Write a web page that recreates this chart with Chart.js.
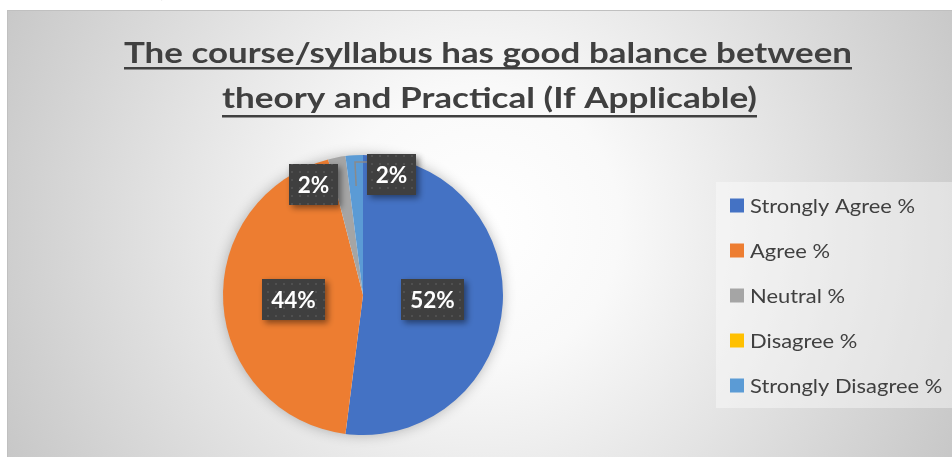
<!DOCTYPE html>
<html><head><meta charset="utf-8">
<script src="https://cdn.jsdelivr.net/npm/chart.js@4/dist/chart.umd.min.js"></script>
<style>html,body{margin:0;padding:0;background:#fff;overflow:hidden}#wrap{position:absolute;left:0;top:0;width:952px;height:457px}</style>
</head><body><div id="wrap"><canvas id="c" width="952" height="457"></canvas></div>
<script>
const titleLines = ["The course/syllabus has good balance between", "theory and Practical (If Applicable)"];
const categories = ["Strongly Agree %", "Agree %", "Neutral %", "Disagree %", "Strongly Disagree %"];
const values = [52, 44, 2, 0, 2];
const colors = ["#4472C4", "#ED7D31", "#A5A5A5", "#FFC000", "#5B9BD5"];
const cutText = "Applicable)";

const TEXT = '#404040';
const FONT = 'Lato, "Open Sans", sans-serif';

function fitText(ctx, text, x, y, font, targetW, align) {
  ctx.font = font;
  const w = ctx.measureText(text).width;
  const s = targetW ? targetW / w : 1;
  ctx.save();
  ctx.translate(x, y);
  ctx.scale(s, 1);
  ctx.textAlign = align || 'center';
  ctx.fillText(text, 0, 0);
  ctx.restore();
  return w * s;
}

let dotPattern = null;
function getPattern(ctx) {
  if (dotPattern) return dotPattern;
  const p = document.createElement('canvas');
  p.width = 8; p.height = 8;
  const pc = p.getContext('2d');
  pc.fillStyle = '#3f3f3f'; pc.fillRect(0, 0, 8, 8);
  pc.fillStyle = '#505050'; pc.fillRect(3, 3, 2, 2);
  dotPattern = ctx.createPattern(p, 'repeat');
  return dotPattern;
}

const bgPlugin = {
  id: 'bg',
  beforeDraw(chart) {
    const ctx = chart.ctx;
    ctx.save();
    ctx.fillStyle = '#ffffff';
    ctx.fillRect(0, 0, chart.width, chart.height);
    // cut-off text from above (only descenders visible)
    ctx.fillStyle = '#000';
    ctx.textBaseline = 'alphabetic';
    fitText(ctx, cutText, 10, -5, 'bold 32px ' + FONT, 0, 'left');
    // chart box
    const g = ctx.createRadialGradient(480, 225, 0, 480, 225, 560);
    g.addColorStop(0, '#ffffff');
    g.addColorStop(0.25, '#f9f9f9');
    g.addColorStop(1, '#c3c3c3');
    ctx.fillStyle = g;
    ctx.fillRect(7, 10, 945, 447);
    ctx.strokeStyle = '#c0c0c0';
    ctx.lineWidth = 1;
    ctx.strokeRect(7.5, 10.5, 950, 450);
    // legend panel
    ctx.fillStyle = 'rgba(255,255,255,0.4)';
    ctx.fillRect(716, 182, 236, 226);
    // title
    ctx.fillStyle = TEXT;
    const tf = 'bold 29px ' + FONT;
    const spans = [[124, 852, 63, 68], [222, 757, 108, 116]];
    titleLines.forEach((t, i) => {
      const [l, r, base, ul] = spans[i];
      fitText(ctx, t, (l + r) / 2, base, tf, r - l, 'center');
      ctx.fillRect(l, ul - 1, r - l, 2.5);
    });
    ctx.restore();
  },
  beforeDatasetsDraw(chart) {
    const arc = chart.getDatasetMeta(0).data[0];
    if (!arc) return;
    const ctx = chart.ctx;
    ctx.save();
    ctx.shadowColor = 'rgba(0,0,0,0.3)';
    ctx.shadowBlur = 14;
    ctx.fillStyle = '#ffffff';
    ctx.beginPath();
    ctx.arc(arc.x, arc.y, arc.outerRadius - 1, 0, Math.PI * 2);
    ctx.fill();
    ctx.restore();
  }
};

const labelShift = [[0, 0], [0, 0], [-27, 8], [0, 0], [36, 0]];
const labelPlugin = {
  id: 'labels',
  afterDatasetsDraw(chart) {
    const ctx = chart.ctx;
    const meta = chart.getDatasetMeta(0);
    const total = values.reduce((a, b) => a + b, 0);
    meta.data.forEach((arc, i) => {
      if (!values[i]) return;
      const p = arc.getProps(['x', 'y', 'startAngle', 'endAngle', 'outerRadius'], true);
      const mid = (p.startAngle + p.endAngle) / 2;
      const frac = values[i] / total;
      const rr = frac >= 0.05 ? 0.5 : 0.86;
      let lx = p.x + Math.cos(mid) * p.outerRadius * rr + labelShift[i][0];
      let ly = p.y + Math.sin(mid) * p.outerRadius * rr + labelShift[i][1];
      const txt = Math.round(frac * 100) + '%';
      ctx.save();
      ctx.font = 'bold 22.5px ' + FONT;
      const tw = ctx.measureText(txt).width;
      const bw = Math.round(tw + 18), bh = 41;
      const bx = Math.round(lx - bw / 2), by = Math.round(ly - bh / 2);
      if (i === 4) {
        // leader line
        const ax = p.x + Math.cos(mid) * p.outerRadius * 0.78;
        const ay = p.y + Math.sin(mid) * p.outerRadius * 0.78;
        ctx.strokeStyle = '#8a8a8a';
        ctx.lineWidth = 1.5;
        ctx.beginPath();
        ctx.moveTo(bx, by + 8);
        ctx.lineTo(bx - 12, by + 8);
        ctx.lineTo(ax, ay);
        ctx.stroke();
      }
      ctx.shadowColor = 'rgba(0,0,0,0.45)';
      ctx.shadowBlur = 6;
      ctx.shadowOffsetX = 3;
      ctx.shadowOffsetY = 3;
      ctx.fillStyle = getPattern(ctx);
      ctx.fillRect(bx, by, bw, bh);
      ctx.shadowColor = 'transparent';
      ctx.fillStyle = '#ffffff';
      ctx.textAlign = 'center';
      ctx.textBaseline = 'middle';
      ctx.fillText(txt, bx + bw / 2, by + bh / 2 + 1);
      ctx.restore();
    });
  },
  afterDraw(chart) {
    const ctx = chart.ctx;
    ctx.save();
    const lf = '19.5px ' + FONT;
    ctx.font = lf;
    const s = 165 / ctx.measureText(categories[0]).width;
    categories.forEach((c, i) => {
      const cy = 205.5 + i * 45;
      ctx.fillStyle = colors[i];
      ctx.fillRect(730, cy - 7, 14, 14);
      ctx.fillStyle = TEXT;
      ctx.textBaseline = 'middle';
      ctx.save();
      ctx.translate(750, cy + 1);
      ctx.scale(s, 1);
      ctx.textAlign = 'left';
      ctx.font = lf;
      ctx.fillText(c, 0, 0);
      ctx.restore();
    });
    ctx.restore();
  }
};

new Chart(document.getElementById('c'), {
  type: 'pie',
  data: {
    labels: categories,
    datasets: [{
      data: values,
      backgroundColor: colors,
      borderWidth: 0
    }]
  },
  options: {
    responsive: false,
    animation: false,
    events: [],
    layout: { padding: { left: 223, right: 449, top: 155, bottom: 22 } },
    plugins: { legend: { display: false }, tooltip: { enabled: false }, title: { display: false } }
  },
  plugins: [bgPlugin, labelPlugin]
});
</script>
</body></html>
